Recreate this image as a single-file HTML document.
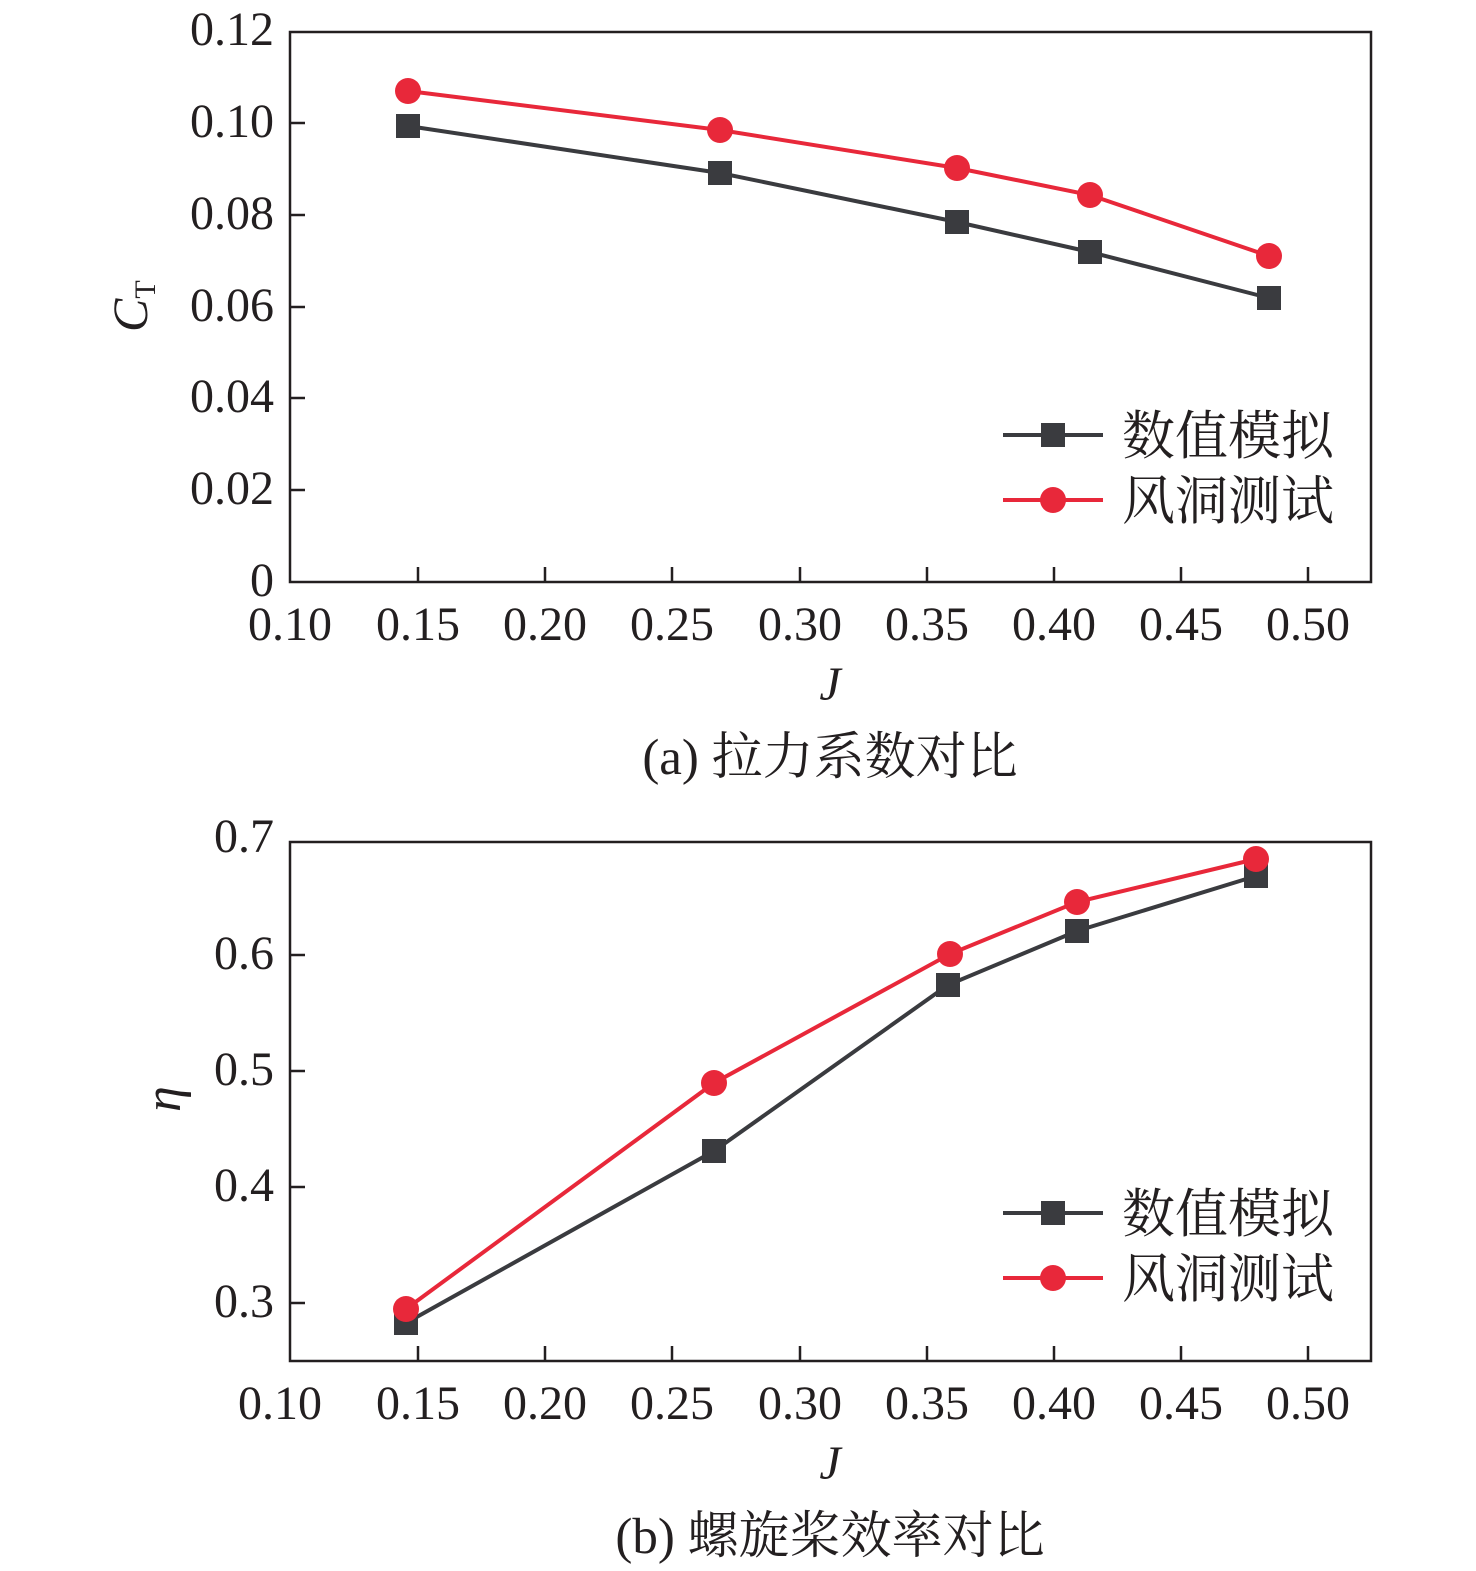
<!DOCTYPE html>
<html><head><meta charset="utf-8"><style>
body{margin:0;background:#fff}
svg{display:block}
text{font-family:"Liberation Serif","Noto Serif CJK SC",serif;fill:#231f20}
.cj{font-family:"Liberation Serif","Noto Serif CJK SC","Noto Sans CJK SC",serif}
</style></head><body>
<svg width="1476" height="1571" viewBox="0 0 1476 1571" xmlns="http://www.w3.org/2000/svg">
<g stroke="#231f20" stroke-width="2.5" fill="none">
<rect x="290" y="32" width="1081" height="550"/>
<path d="M418 582v-15M545 582v-15M672 582v-15M800 582v-15M927 582v-15M1054 582v-15M1181 582v-15M1308 582v-15"/>
<path d="M290 123h15M290 215h15M290 307h15M290 398h15M290 490h15"/>
<rect x="290" y="842" width="1081" height="519"/>
<path d="M418 1361v-15M545 1361v-15M672 1361v-15M800 1361v-15M927 1361v-15M1054 1361v-15M1181 1361v-15M1308 1361v-15"/>
<path d="M290 955h15M290 1071h15M290 1187h15M290 1303h15"/>
</g>
<g font-size="48" text-anchor="end">
<text x="274" y="45">0.12</text><text x="274" y="137">0.10</text><text x="274" y="229">0.08</text><text x="274" y="321">0.06</text><text x="274" y="412">0.04</text><text x="274" y="504">0.02</text><text x="274" y="596">0</text>
<text x="274" y="852">0.7</text><text x="274" y="969">0.6</text><text x="274" y="1085">0.5</text><text x="274" y="1201">0.4</text><text x="274" y="1317">0.3</text>
</g>
<g font-size="48" text-anchor="middle">
<text x="290" y="640">0.10</text><text x="418" y="640">0.15</text><text x="545" y="640">0.20</text><text x="672" y="640">0.25</text><text x="800" y="640">0.30</text><text x="927" y="640">0.35</text><text x="1054" y="640">0.40</text><text x="1181" y="640">0.45</text><text x="1308" y="640">0.50</text>
<text x="280" y="1419">0.10</text><text x="418" y="1419">0.15</text><text x="545" y="1419">0.20</text><text x="672" y="1419">0.25</text><text x="800" y="1419">0.30</text><text x="927" y="1419">0.35</text><text x="1054" y="1419">0.40</text><text x="1181" y="1419">0.45</text><text x="1308" y="1419">0.50</text>
<text x="830" y="700" font-style="italic" font-size="48">J</text>
<text x="830" y="1479" font-style="italic" font-size="48">J</text>
<text x="830" y="774" class="cj" font-size="51">(a) 拉力系数对比</text>
<text x="830" y="1553" class="cj" font-size="51">(b) 螺旋桨效率对比</text>
</g>
<text transform="translate(147,332) rotate(-90)" font-size="50" font-style="italic">C<tspan font-size="30" font-style="normal" dy="8">T</tspan></text>
<text transform="translate(180,1112) rotate(-90)" font-size="52" font-style="italic">η</text>
<polyline points="408,126 720,173 957,222 1090,252 1269,298" fill="none" stroke="#3a3b3f" stroke-width="4"/>
<polyline points="408,91 720,130 957,168 1090,195 1269,256" fill="none" stroke="#e8283a" stroke-width="4"/>
<g fill="#3a3b3f"><rect x="396" y="114" width="24" height="24"/><rect x="708" y="161" width="24" height="24"/><rect x="945" y="210" width="24" height="24"/><rect x="1078" y="240" width="24" height="24"/><rect x="1257" y="286" width="24" height="24"/></g>
<g fill="#e8283a"><circle cx="408" cy="91" r="13"/><circle cx="720" cy="130" r="13"/><circle cx="957" cy="168" r="13"/><circle cx="1090" cy="195" r="13"/><circle cx="1269" cy="256" r="13"/></g>
<polyline points="406,1323 714,1151 948,985 1077,931 1256,876" fill="none" stroke="#3a3b3f" stroke-width="4"/>
<polyline points="406,1309 714,1083 950,954 1077,902 1256,859" fill="none" stroke="#e8283a" stroke-width="4"/>
<g fill="#3a3b3f"><rect x="394" y="1311" width="24" height="24"/><rect x="702" y="1139" width="24" height="24"/><rect x="936" y="973" width="24" height="24"/><rect x="1065" y="919" width="24" height="24"/><rect x="1244" y="864" width="24" height="24"/></g>
<g fill="#e8283a"><circle cx="406" cy="1309" r="13"/><circle cx="714" cy="1083" r="13"/><circle cx="950" cy="954" r="13"/><circle cx="1077" cy="902" r="13"/><circle cx="1256" cy="859" r="13"/></g>
<g>
<path d="M1003 435h100" stroke="#3a3b3f" stroke-width="4"/><rect x="1041" y="423" width="24" height="24" fill="#3a3b3f"/>
<path d="M1003 500h100" stroke="#e8283a" stroke-width="4"/><circle cx="1053" cy="500" r="13" fill="#e8283a"/>
<text x="1122" y="454" class="cj" font-size="53">数值模拟</text>
<text x="1122" y="519" class="cj" font-size="53">风洞测试</text>
<path d="M1003 1213h100" stroke="#3a3b3f" stroke-width="4"/><rect x="1041" y="1201" width="24" height="24" fill="#3a3b3f"/>
<path d="M1003 1278h100" stroke="#e8283a" stroke-width="4"/><circle cx="1053" cy="1278" r="13" fill="#e8283a"/>
<text x="1122" y="1232" class="cj" font-size="53">数值模拟</text>
<text x="1122" y="1297" class="cj" font-size="53">风洞测试</text>
</g>
</svg>
</body></html>
